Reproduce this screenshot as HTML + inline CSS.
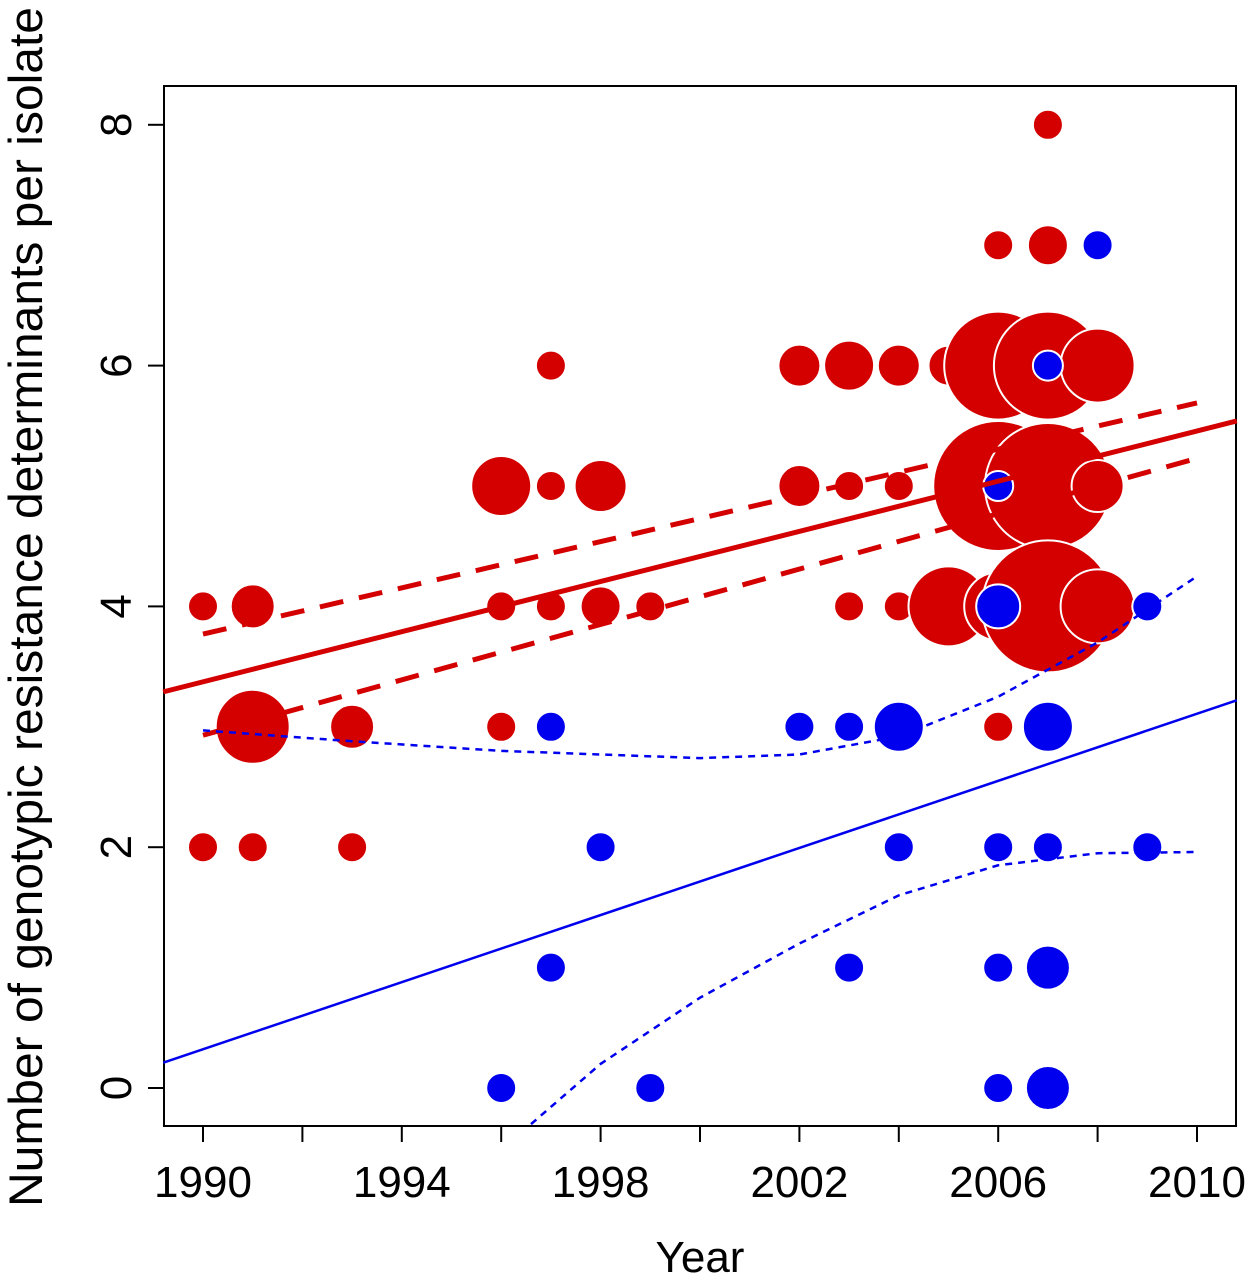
<!DOCTYPE html>
<html><head><meta charset="utf-8"><style>
html,body{margin:0;padding:0;background:#fff}
svg{display:block;font-family:"Liberation Sans",sans-serif}
</style></head><body>
<svg id="chart" width="1254" height="1280">
<rect x="164" y="86" width="1072" height="1040" fill="none" stroke="#000" stroke-width="2"/>
<g id="xt"></g><g id="yt"></g>
<g id="pts"></g><g id="lines"></g>
<text x="700" y="1272" font-size="44" text-anchor="middle">Year</text>
<text transform="translate(42,607) rotate(-90)" font-size="47" text-anchor="middle" textLength="1200" lengthAdjust="spacingAndGlyphs">Number of genotypic resistance determinants per isolate</text>
</svg>
<script>
const xTicks=[1990,1992,1994,1996,1998,2000,2002,2004,2006,2008,2010];
const xLabels=[1990,1994,1998,2002,2006,2010];
const yTicks=[0,2,4,6,8];
const redYear=[1990,1991,1990,1991,1993,1991,1993,1996,1997,1998,1997,1996,1997,1998,1999,1996,2002,2003,2004,2005,2006,2007,2008,2002,2003,2004,2005,2006,2007,2008,2003,2004,2005,2006,2007,2008,2006,2006,2007,2007];
const redVal=[4,4,2,2,2,3,3,5,5,5,6,4,4,4,4,3,6,6,6,6,6,6,6,5,5,5,5,5,5,5,4,4,4,4,4,4,3,7,7,8];
const redSize=[15,22,15,15,15,37,22,30,15,26,15,15,15,20,15,15,21,25,21,20,54,54,37,21,15,15,15,65,63,26,15,15,40,34,66,37,15,15,20,15];
const blueYear=[1997,1998,1997,1996,1999,2002,2003,2004,2004,2003,2006,2006,2006,2007,2007,2007,2007,2009,2009,2008,2007,2006,2006];
const blueVal=[3,2,1,0,0,3,3,3,2,1,2,1,0,3,2,1,0,4,2,7,6,5,4];
const blueSize=[15,15,15,15,15,15,15,25,15,15,15,15,15,25,15,22,22,15,15,15,15,15,22];
const redFit=[3.29,5.54], redUp=[3.77,5.69], redLo=[2.93,5.23], blueFit=[0.21,3.22];
const blueCiYears=[1990,1993,1996,2000,2002,2004,2006,2008,2010];
const blueCiUp=[2.97,2.88,2.8,2.74,2.77,2.92,3.25,3.7,4.25];
const blueLoYears=[1996.6,1998,2000,2002,2004,2006,2008,2010];
const blueCiLo=[-0.3,0.2,0.75,1.2,1.6,1.85,1.95,1.96];
const NS='http://www.w3.org/2000/svg';
const X=y=>203+(y-1990)*49.7, Y=v=>1088-v*120.4;
function mk(t,a,p){const e=document.createElementNS(NS,t);for(const k in a)e.setAttribute(k,a[k]);p.appendChild(e);return e;}
const xt=document.getElementById('xt'),yt=document.getElementById('yt');
xTicks.forEach(t=>{const l=mk('line',{x1:X(t),x2:X(t),y1:1126,y2:1142,stroke:'#000','stroke-width':2},xt);

});
xLabels.forEach(t=>{const e=mk('text',{x:X(t),y:1197,'font-size':44,'text-anchor':'middle'},xt);e.textContent=t;

});
yTicks.forEach(t=>{const l=mk('line',{x1:148,x2:164,y1:Y(t),y2:Y(t),stroke:'#000','stroke-width':2},yt);


const e=mk('text',{transform:`translate(131,${Y(t)}) rotate(-90)`,'font-size':44,'text-anchor':'middle'},yt);e.textContent=t;

});
const pts=document.getElementById('pts');
const order=redYear.map((_,i)=>i).sort((a,b)=>redYear[a]-redYear[b]);
order.forEach(i=>{const c=mk('circle',{cx:X(redYear[i]),cy:Y(redVal[i]),r:redSize[i],fill:'#d40000',stroke:'#fff','stroke-width':2},pts);

});
blueYear.forEach((y,i)=>{const c=mk('circle',{cx:X(y),cy:Y(blueVal[i]),r:blueSize[i],fill:'#0000ee',stroke:'#fff','stroke-width':2},pts);

});
const ln=document.getElementById('lines');
const x0=1989.2,x1=2010.8;
let l=mk('line',{x1:X(x0),y1:Y(redFit[0]),x2:X(x1),y2:Y(redFit[1]),stroke:'#d40000','stroke-width':5},ln);


[[redUp,'red-ci-upper'],[redLo,'red-ci-lower']].forEach(([a,n])=>{const d=mk('line',{x1:X(1990),y1:Y(a[0]),x2:X(2010),y2:Y(a[1]),stroke:'#d40000','stroke-width':5,'stroke-dasharray':'24 16'},ln);

});
l=mk('line',{x1:X(x0),y1:Y(blueFit[0]),x2:X(x1),y2:Y(blueFit[1]),stroke:'#0000ee','stroke-width':2.5},ln);


function poly(xs,ys,n){const p=mk('polyline',{points:xs.map((x,i)=>X(x)+','+Y(ys[i])).join(' '),fill:'none',stroke:'#0000ee','stroke-width':2.5,'stroke-dasharray':'7 6'},ln);

}
poly(blueCiYears,blueCiUp,'blue-ci-upper');
poly(blueLoYears,blueCiLo,'blue-ci-lower');
</script>
</body></html>
